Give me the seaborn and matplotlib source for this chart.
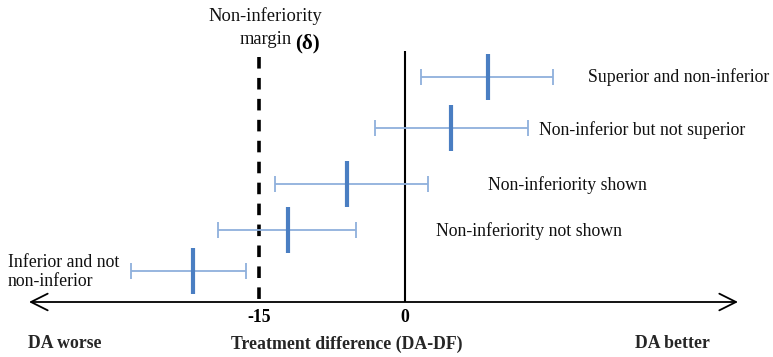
import matplotlib
matplotlib.use("Agg")
import matplotlib.pyplot as plt
import seaborn as sns
import pandas as pd

# Confidence intervals for the treatment difference (DA - DF)
scenarios = [
    "Superior and non-inferior",
    "Non-inferior but not superior",
    "Non-inferiority shown",
    "Non-inferiority not shown",
    "Inferior and not\nnon-inferior",
]
estimate = [8.5, 4.7, -6.0, -12.0, -21.8]
lower = [1.6, -3.1, -13.4, -19.2, -28.1]
upper = [15.2, 12.6, 2.4, -5.0, -16.3]
margin = -15
tick_values = [-15, 0]
tick_labels = ["-15", "0"]

df = pd.DataFrame({"scenario": scenarios, "est": estimate, "lo": lower, "hi": upper})
row_y = [77, 128, 184, 230, 271]
df["row"] = row_y

sns.set_theme(style="white")
plt.rcParams["font.family"] = ["Liberation Serif", "DejaVu Serif"]

W, H = 773, 357
fig = plt.figure(figsize=(W / 100, H / 100), dpi=100)
ax = fig.add_axes([0, 0, 1, 1])
ppu = 146 / 15.0  # pixels per unit
ax.set_xlim((0 - 405) / ppu, (W - 405) / ppu)
ax.set_ylim(H, 0)
ax.axis("off")

light = "#8fb0dc"
dark = "#4a7ec2"

# whiskers with caps
ax.hlines(df["row"], df["lo"], df["hi"], color=light, lw=1.3, zorder=2)
for col in ["lo", "hi"]:
    ax.vlines(df[col], df["row"] - 8, df["row"] + 8, color=light, lw=1.3, zorder=2)
# point estimates
sns.scatterplot(data=df, x="est", y="row", marker="|", s=1050, linewidth=3,
                color=dark, ax=ax, zorder=3, legend=False)

# reference lines
ax.vlines(0, 51, 302, color="black", lw=1.5, zorder=1)
ax.vlines(margin, 57, 302, color="black", lw=2.6, linestyles=(0, (3.2, 2.6)), zorder=1)

# horizontal axis with arrows at both ends
ax.annotate("", xy=((29 - 405) / ppu, 302), xytext=((738 - 405) / ppu, 302),
            arrowprops=dict(arrowstyle="<->,head_length=1.0,head_width=0.5",
                            color="black", lw=1.3, shrinkA=0, shrinkB=0))

fs = 12.8
txt = "#111111"
# scenario labels
label_pos = [(588, 77), (539, 130), (488, 185), (436, 231)]
for name, (px, py) in zip(scenarios[:4], label_pos):
    ax.text((px - 405) / ppu, py, name, fontsize=fs, ha="left", va="center", color=txt)
ax.text((8 - 405) / ppu, 272, scenarios[4], fontsize=fs, ha="left", va="center",
        color=txt, linespacing=1.2)

# margin label
ax.text((265 - 405) / ppu, 16, "Non-inferiority", fontsize=13.3, ha="center", va="center", color=txt)
ax.text((292 - 405) / ppu, 39, "margin", fontsize=13.3, ha="right", va="center", color=txt)
ax.text((295 - 405) / ppu, 43, "(δ)", fontsize=15, fontweight="bold", ha="left", va="center", color="black")

# tick labels
bfs = 12.8
for v, t in zip(tick_values, tick_labels):
    ax.text(v, 318, t, fontsize=bfs, fontweight="bold", ha="center", va="center", color="black")

ax.text((28 - 405) / ppu, 344, "DA worse", fontsize=bfs, fontweight="bold", ha="left", va="center")
ax.text((347 - 405) / ppu, 344, "Treatment difference (DA-DF)", fontsize=bfs, fontweight="bold",
        ha="center", va="center")
ax.text((672 - 405) / ppu, 344, "DA better", fontsize=bfs, fontweight="bold", ha="center", va="center")

fig.savefig("out.png", dpi=100, facecolor="white")
